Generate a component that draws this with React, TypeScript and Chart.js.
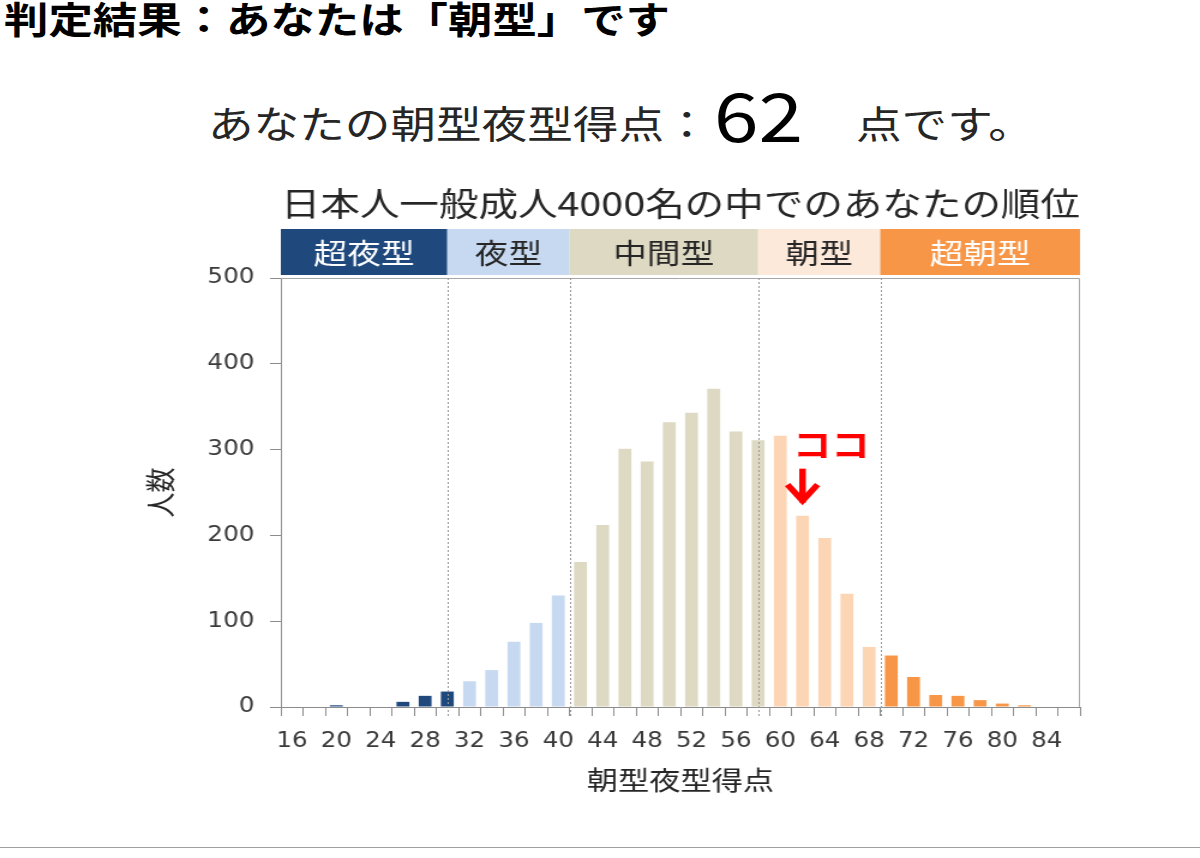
import { useEffect, useRef } from 'react';
import { Chart, registerables } from 'chart.js';

Chart.register(...registerables);

// 朝型夜型得点 (x categories) and number of people per score
const scores = [
  16, 18, 20, 22, 24, 26, 28, 30, 32, 34, 36, 38, 40, 42, 44, 46, 48, 50,
  52, 54, 56, 58, 60, 62, 64, 66, 68, 70, 72, 74, 76, 78, 80, 82, 84, 86,
];
const counts = [
  0, 0, 2, 0, 0, 6, 13, 18, 30, 43, 76, 98, 130, 169, 212, 301, 286, 332,
  343, 371, 321, 311, 316, 223, 197, 132, 70, 60, 35, 14, 13, 8, 4, 2, 0, 0,
];

// type bands, edges given in score units
const bandNames = ['超夜型', '夜型', '中間型', '朝型', '超朝型'];
const bandEdges = [15, 30, 41, 58, 69, 87];
const bandFill = ['#1F497D', '#C6D9F1', '#DDD9C3', '#FDE9D9', '#F79646'];
const bandText = ['#FFFFFF', '#262626', '#262626', '#262626', '#FFFFFF'];
const barFill = ['#1F497D', '#C6D9F1', '#DDD9C3', '#FCD5B5', '#F79646'];

const myScore = 62;
const markText = 'ココ';

const yMax = 500;
const yStep = 100;

const CJK = '"Noto Sans CJK JP", "Noto Sans", sans-serif';
const AXIS_GRAY = '#8C8C8C';

const bandOf = (s: number) => {
  for (let i = 0; i < bandNames.length; i++) {
    if (s <= bandEdges[i + 1]) return i;
  }
  return bandNames.length - 1;
};

const toIndex = (s: number) => (s - scores[0]) / 2;

const decorPlugin = {
  id: 'decor',
  beforeDatasetsDraw(chart: any) {
    const { ctx, chartArea } = chart;
    // top + right frame of the plot
    ctx.save();
    ctx.strokeStyle = '#A6A6A6';
    ctx.lineWidth = 1;
    ctx.beginPath();
    ctx.moveTo(chartArea.left, chartArea.top + 0.5);
    ctx.lineTo(chartArea.right - 0.5, chartArea.top + 0.5);
    ctx.lineTo(chartArea.right - 0.5, chartArea.bottom);
    ctx.stroke();
    ctx.restore();
  },
  afterDatasetsDraw(chart: any) {
    const { ctx, chartArea } = chart;
    const x = chart.scales.x;
    const y = chart.scales.y;
    ctx.save();

    // header band
    const bandTop = chartArea.top - 49;
    const bandH = 46;
    for (let i = 0; i < bandNames.length; i++) {
      const x0 = x.getPixelForValue(toIndex(bandEdges[i]));
      const x1 = x.getPixelForValue(toIndex(bandEdges[i + 1]));
      ctx.fillStyle = bandFill[i];
      ctx.fillRect(x0, bandTop, x1 - x0, bandH);
      ctx.fillStyle = bandText[i];
      ctx.font = `28px ${CJK}`;
      ctx.textAlign = 'center';
      ctx.textBaseline = 'middle';
      ctx.fillText(bandNames[i], (x0 + x1) / 2, bandTop + bandH / 2 + 1);
    }

    // dotted separators
    ctx.strokeStyle = '#9A9A9A';
    ctx.lineWidth = 1;
    ctx.setLineDash([2, 2]);
    for (let i = 1; i < bandEdges.length - 1; i++) {
      const px = Math.round(x.getPixelForValue(toIndex(bandEdges[i]))) + 0.5;
      ctx.beginPath();
      ctx.moveTo(px, chartArea.top);
      ctx.lineTo(px, chartArea.bottom + 9);
      ctx.stroke();
    }
    ctx.setLineDash([]);

    // marker for the user's score
    const mi = scores.indexOf(myScore);
    const mx = x.getPixelForValue(mi);
    const top = y.getPixelForValue(counts[mi]);
    ctx.strokeStyle = '#FF0000';
    ctx.lineWidth = 5.5;
    ctx.lineCap = 'butt';
    ctx.lineJoin = 'miter';
    ctx.beginPath();
    ctx.moveTo(mx, top - 47);
    ctx.lineTo(mx, top - 13);
    ctx.stroke();
    ctx.beginPath();
    ctx.moveTo(mx - 12.5, top - 31);
    ctx.lineTo(mx, top - 15);
    ctx.lineTo(mx + 12.5, top - 31);
    ctx.stroke();

    ctx.fillStyle = '#FF0000';
    ctx.font = `bold 32px ${CJK}`;
    ctx.textAlign = 'left';
    ctx.textBaseline = 'middle';
    ctx.fillText(markText, mx - 8, top - 71);

    ctx.restore();
  },
};

const ChartCanvas = () => {
  const canvasRef = useRef<HTMLCanvasElement>(null);
  const chartRef = useRef<Chart | null>(null);

  useEffect(() => {
    const ctx = canvasRef.current?.getContext('2d');
    if (!ctx) return;
    if (chartRef.current) chartRef.current.destroy();

    chartRef.current = new Chart(ctx, {
      type: 'bar',
      data: {
        labels: scores.map(String),
        datasets: [
          {
            label: '人数',
            data: counts,
            backgroundColor: scores.map((s) => barFill[bandOf(s)]),
            borderWidth: 0,
            barPercentage: 0.58,
            categoryPercentage: 1,
          },
        ],
      },
      options: {
        responsive: false,
        animation: false,
        layout: { padding: { left: 0, right: 100, top: 0, bottom: 0 } },
        plugins: {
          legend: { display: false },
          tooltip: { enabled: false },
          title: {
            display: true,
            fullSize: false,
            text: '日本人一般成人4000名の中でのあなたの順位',
            color: '#262626',
            font: { family: CJK, size: 33, weight: 'normal' },
            padding: { top: 13.2, bottom: 55.2 },
          },
        },
        scales: {
          x: {
            offset: true,
            grid: {
              display: true,
              offset: true,
              drawOnChartArea: false,
              drawTicks: true,
              tickLength: 9,
              color: AXIS_GRAY,
            },
            border: { display: true, color: AXIS_GRAY },
            ticks: {
              autoSkip: false,
              maxRotation: 0,
              minRotation: 0,
              padding: 13,
              color: '#3A3A3A',
              font: { family: 'DejaVu Sans', size: 20.5 },
              callback: (_v: any, i: number) => (i % 2 === 0 ? String(scores[i]) : ''),
            },
            title: {
              display: true,
              text: '朝型夜型得点',
              color: '#262626',
              font: { family: CJK, size: 26 },
              padding: { top: 0, bottom: 14.4 },
            },
            afterFit: (s: any) => {
              s.height = 103;
            },
          },
          y: {
            min: 0,
            max: yMax,
            grid: {
              display: true,
              drawOnChartArea: false,
              drawTicks: true,
              tickLength: 9,
              color: AXIS_GRAY,
            },
            border: { display: true, color: AXIS_GRAY },
            ticks: {
              stepSize: yStep,
              padding: 13,
              color: '#3A3A3A',
              font: { family: 'DejaVu Sans', size: 20.5 },
            },
            title: {
              display: true,
              text: '人数',
              color: '#262626',
              font: { family: CJK, size: 25 },
              padding: { top: 118, bottom: 0 },
            },
            afterFit: (s: any) => {
              s.width = 234;
            },
          },
        },
      } as any,
      plugins: [decorPlugin],
    });

    return () => {
      if (chartRef.current) {
        chartRef.current.destroy();
        chartRef.current = null;
      }
    };
  }, []);

  return (
    <canvas
      ref={canvasRef}
      width={1000}
      height={640}
      style={{
        position: 'absolute',
        left: 0,
        top: 170,
        width: 1000,
        height: 640,
        transform: 'scaleX(1.2)',
        transformOrigin: '0 0',
      }}
    />
  );
};

const stretched = (extra: React.CSSProperties): React.CSSProperties => ({
  position: 'absolute',
  whiteSpace: 'nowrap',
  lineHeight: 1,
  transform: 'scaleX(1.2)',
  transformOrigin: '0 0',
  fontFamily: CJK,
  ...extra,
});

export default function App() {
  return (
    <div
      style={{
        position: 'fixed',
        left: 0,
        top: 0,
        width: 1200,
        height: 858,
        background: '#FFFFFF',
        overflow: 'hidden',
        fontFamily: CJK,
      }}
    >
      <div style={stretched({ left: 4, top: 0, fontSize: 37, fontWeight: 700, color: '#000000' })}>
        判定結果：あなたは「朝型」です
      </div>
      <div style={stretched({ left: 208, top: 103, fontSize: 38, color: '#262626' })}>
        あなたの朝型夜型得点：
      </div>
      <div style={stretched({ left: 714, top: 79, fontSize: 67, color: '#000000' })}>{myScore}</div>
      <div style={stretched({ left: 856, top: 103, fontSize: 38, color: '#262626' })}>点です。</div>
      <ChartCanvas />
      <div
        style={{
          position: 'absolute',
          left: 0,
          top: 847,
          width: 1200,
          height: 1,
          background: '#A0A0A0',
        }}
      />
    </div>
  );
}
